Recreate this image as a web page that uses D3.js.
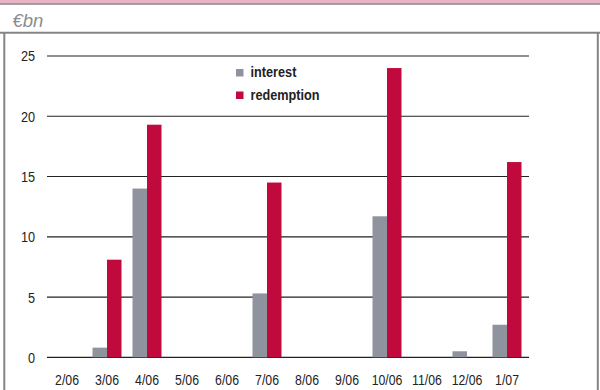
<!DOCTYPE html>
<html>
<head>
<meta charset="utf-8">
<script src="https://cdn.jsdelivr.net/npm/d3@7"></script>
<style>
  html, body { margin: 0; padding: 0; background: #fff; }
  svg { display: block; }
</style>
</head>
<body>
<svg id="chart" width="600" height="390"></svg>
<script>
// Monthly interest and redemption payments, EUR billions
const months = ["2/06", "3/06", "4/06", "5/06", "6/06", "7/06", "8/06", "9/06", "10/06", "11/06", "12/06", "1/07"];
const interest = [0, 0.8, 14.0, 0, 0, 5.3, 0, 0, 11.7, 0, 0.5, 2.7];
const redemption = [0, 8.1, 19.3, 0, 0, 14.5, 0, 0, 24.0, 0, 0, 16.2];
const seriesNames = ["interest", "redemption"];
const yTicks = [0, 5, 10, 15, 20, 25];
const unitLabel = "€bn";

const colors = { interest: "#8f939e", redemption: "#c00a3e" };
const frameGray = "#858585";
const sans = "'Liberation Sans', Arial, sans-serif";
// horizontal squeeze giving a narrow face from the regular one
const squeeze = "scale(0.82,1)";

const svg = d3.select("#chart");
const W = 600, H = 390;

// Header band and frame
svg.append("rect").attr("x", 0).attr("y", 0).attr("width", W).attr("height", 3.5).attr("fill", "#e8b3c3");
svg.append("line").attr("x1", 0).attr("x2", W).attr("y1", 4).attr("y2", 4)
  .attr("stroke", frameGray).attr("stroke-width", 1.6);
svg.append("line").attr("x1", 0).attr("x2", W).attr("y1", 32.7).attr("y2", 32.7)
  .attr("stroke", frameGray).attr("stroke-width", 2);
svg.append("line").attr("x1", 4.3).attr("x2", 4.3).attr("y1", 32).attr("y2", H)
  .attr("stroke", frameGray).attr("stroke-width", 2);
svg.append("line").attr("x1", 597.8).attr("x2", 597.8).attr("y1", 32).attr("y2", H)
  .attr("stroke", frameGray).attr("stroke-width", 2);

svg.append("text")
  .attr("x", 12.5).attr("y", 27)
  .attr("font-family", sans)
  .attr("font-style", "italic")
  .attr("font-size", 18.5)
  .attr("fill", "#8c8c8c")
  .text(unitLabel);

// Scales
const x0 = d3.scaleBand().domain(months).range([47, 527]).paddingInner(0.275).paddingOuter(0.1375);
const x1 = d3.scaleBand().domain(seriesNames).range([0, x0.bandwidth()]);
const y = d3.scaleLinear().domain([0, 25]).range([357.3, 56]);

// Horizontal gridlines
svg.append("g").selectAll("line").data(yTicks).join("line")
  .attr("x1", 47).attr("x2", 529)
  .attr("y1", d => y(d)).attr("y2", d => y(d))
  .attr("stroke", "#222").attr("stroke-width", 1.2);

// Y axis labels
const yAxis = d3.axisLeft(y).tickValues(yTicks).tickSize(0).tickPadding(0);
const yg = svg.append("g").attr("transform", "translate(35,0)").call(yAxis);
yg.select(".domain").remove();
yg.selectAll("text")
  .attr("font-family", sans).attr("font-size", 15.5).attr("fill", "#222")
  .attr("transform", squeeze);

// X axis labels
const xAxis = d3.axisBottom(x0).tickSize(0).tickPadding(0);
const xg = svg.append("g").attr("transform", "translate(0,374)").call(xAxis);
xg.select(".domain").remove();
xg.selectAll("text")
  .attr("font-family", sans).attr("font-size", 15).attr("fill", "#222")
  .attr("transform", squeeze);

// Bars
const rows = months.map((m, i) => ({ month: m, interest: interest[i], redemption: redemption[i] }));
const groups = svg.append("g").selectAll("g").data(rows).join("g")
  .attr("transform", d => `translate(${x0(d.month)},0)`);
groups.selectAll("rect")
  .data(d => seriesNames.map(k => ({ key: k, value: d[k] })))
  .join("rect")
  .attr("x", d => x1(d.key))
  .attr("width", x1.bandwidth())
  .attr("y", d => y(d.value))
  .attr("height", d => y(0) - y(d.value))
  .attr("fill", d => colors[d.key]);

// Legend
const legend = svg.append("g").attr("transform", "translate(236,69)");
seriesNames.forEach((name, i) => {
  const g = legend.append("g").attr("transform", `translate(0,${i * 22.5})`);
  g.append("rect").attr("width", 7.5).attr("height", 7.5).attr("fill", colors[name]);
  g.append("g").attr("transform", "translate(14.5,8)")
    .append("text")
    .attr("transform", squeeze)
    .attr("font-family", sans).attr("font-weight", "bold")
    .attr("font-size", 15.5).attr("fill", "#222")
    .text(name);
});
</script>
</body>
</html>
